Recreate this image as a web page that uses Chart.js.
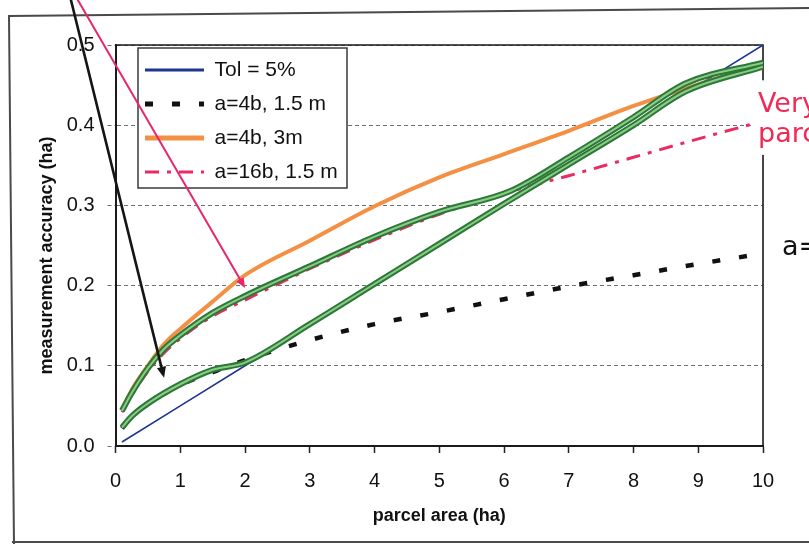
<!DOCTYPE html>
<html>
<head>
<meta charset="utf-8">
<script src="https://cdn.jsdelivr.net/npm/chart.js@4/dist/chart.umd.min.js"></script>
<style>
  html, body { margin: 0; padding: 0; background: #fff; }
  canvas { display: block; }
</style>
</head>
<body>
<canvas id="chart" width="809" height="544"></canvas>
<script>
// Parcel area (ha) sample points and measurement accuracy (ha) for each case
const tolArea = [0.1, 1, 2, 3, 4, 5, 6, 7, 8, 9, 10];
const tolAccuracy = [0.005, 0.05, 0.1, 0.15, 0.2, 0.25, 0.3, 0.35, 0.4, 0.45, 0.5];

const curveArea = [0.1, 0.25, 0.5, 0.75, 1, 1.5, 2, 3, 4, 5, 6, 7, 8, 9, 10];
const a4b15Accuracy = [0.022, 0.038, 0.052, 0.065, 0.076, 0.092, 0.107, 0.132, 0.152, 0.167, 0.183, 0.199, 0.213, 0.227, 0.24];
const a4b3Accuracy = [0.045, 0.07, 0.1, 0.127, 0.146, 0.18, 0.213, 0.256, 0.299, 0.335, 0.364, 0.393, 0.424, 0.451, 0.476];
const a16b15Accuracy = [0.042, 0.063, 0.093, 0.116, 0.134, 0.162, 0.182, 0.221, 0.257, 0.289, 0.315, 0.337, 0.36, 0.383, 0.405];

// Highlighted envelopes (upper and lower) drawn over the curves
const upperEnvArea = [0.1, 0.25, 0.5, 0.75, 1, 1.5, 2, 3, 4, 5, 6.1, 7, 8, 8.8, 10];
const upperEnvAccuracy = [0.044, 0.066, 0.097, 0.121, 0.138, 0.166, 0.187, 0.224, 0.261, 0.292, 0.318, 0.36, 0.41, 0.452, 0.478];
const lowerEnvArea = [0.1, 0.25, 0.5, 1, 1.5, 2, 3, 4, 5, 6, 7, 8, 8.8, 10];
const lowerEnvAccuracy = [0.023, 0.037, 0.053, 0.077, 0.095, 0.104, 0.152, 0.202, 0.252, 0.302, 0.351, 0.4, 0.442, 0.473];

// Axis tick labels
const xTickLabels = ['0', '1', '2', '3', '4', '5', '6', '7', '8', '9', '10'];
const yTickLabels = ['0.0', '0.1', '0.2', '0.3', '0.4', '0.5'];

const SANS = "'Liberation Sans', Arial, Helvetica, sans-serif";
const HAND = "'DejaVu Sans', 'Noto Sans', sans-serif";

const toPoints = (xs, ys) => xs.map((x, i) => ({ x: x, y: ys[i] }));

const common = { pointRadius: 0, pointHoverRadius: 0, fill: false, borderJoinStyle: 'round' };

const datasets = [
  Object.assign({ label: 'Tol = 5%', data: toPoints(tolArea, tolAccuracy),
    borderColor: '#1f3596', borderWidth: 1.6, tension: 0, order: 6, legendWidth: 3 }, common),
  Object.assign({ label: 'a=4b, 1.5 m', data: toPoints(curveArea, a4b15Accuracy),
    borderColor: '#111111', borderWidth: 4.5, borderDash: [8, 19],
    cubicInterpolationMode: 'monotone', order: 5, legendWidth: 5 }, common),
  Object.assign({ label: 'a=4b, 3m', data: toPoints(curveArea, a4b3Accuracy),
    borderColor: '#f39043', borderWidth: 4, cubicInterpolationMode: 'monotone', order: 4, legendWidth: 5 }, common),
  Object.assign({ label: 'a=16b, 1.5 m', data: toPoints(curveArea, a16b15Accuracy),
    borderColor: '#ea2a62', borderWidth: 3, borderDash: [14, 8, 4, 8],
    cubicInterpolationMode: 'monotone', order: 3, legendWidth: 3 }, common),
  Object.assign({ label: '', data: toPoints(upperEnvArea, upperEnvAccuracy),
    borderColor: '#2b7839', borderWidth: 6, cubicInterpolationMode: 'monotone', order: 2 }, common),
  Object.assign({ label: '', data: toPoints(lowerEnvArea, lowerEnvAccuracy),
    borderColor: '#2b7839', borderWidth: 6, cubicInterpolationMode: 'monotone', order: 2 }, common),
  Object.assign({ label: '', data: toPoints(upperEnvArea, upperEnvAccuracy),
    borderColor: '#8ccb84', borderWidth: 2, cubicInterpolationMode: 'monotone', order: 1 }, common),
  Object.assign({ label: '', data: toPoints(lowerEnvArea, lowerEnvAccuracy),
    borderColor: '#8ccb84', borderWidth: 2, cubicInterpolationMode: 'monotone', order: 1 }, common)
];

function drawArrow(ctx, x1, y1, x2, y2, color, width, head) {
  const ang = Math.atan2(y2 - y1, x2 - x1);
  const bx = x2 - head * Math.cos(ang);
  const by = y2 - head * Math.sin(ang);
  const hw = head * 0.42;
  ctx.save();
  ctx.strokeStyle = color;
  ctx.fillStyle = color;
  ctx.lineWidth = width;
  ctx.lineCap = 'round';
  ctx.beginPath();
  ctx.moveTo(x1, y1);
  ctx.lineTo(bx, by);
  ctx.stroke();
  ctx.beginPath();
  ctx.moveTo(x2, y2);
  ctx.lineTo(bx + hw * Math.sin(ang), by - hw * Math.cos(ang));
  ctx.lineTo(bx - hw * Math.sin(ang), by + hw * Math.cos(ang));
  ctx.closePath();
  ctx.fill();
  ctx.restore();
}

const decorations = {
  id: 'decorations',
  afterLayout(chart) {
    const lg = chart.legend;
    const ca = chart.chartArea;
    if (lg) {
      lg.left = ca.left + 16.5;
      lg.top = ca.top + 1.5;
    }
  },
  beforeDraw(chart) {
    const ctx = chart.ctx;
    ctx.save();
    ctx.fillStyle = '#ffffff';
    ctx.fillRect(0, 0, chart.width, chart.height);
    // outer figure frame
    ctx.strokeStyle = '#4a4a4a';
    ctx.lineWidth = 2;
    ctx.beginPath();
    ctx.moveTo(chart.width + 4, 8);
    ctx.lineTo(9, 16);
    ctx.lineTo(14, chart.height + 2);
    ctx.moveTo(12, 542);
    ctx.lineTo(chart.width + 4, 542);
    ctx.stroke();
    ctx.restore();

    const lg = chart.legend;
    if (lg && !lg._framed) {
      const baseDraw = lg.draw;
      lg.draw = function () {
        const ca = chart.chartArea;
        const c = this.ctx;
        c.save();
        c.fillStyle = '#ffffff';
        c.fillRect(ca.left + 22.5, ca.top + 3, 209, 140);
        c.strokeStyle = '#3a3a3a';
        c.lineWidth = 1.5;
        c.strokeRect(ca.left + 22.5, ca.top + 3, 209, 140);
        c.restore();
        baseDraw.apply(this, arguments);
      };
      lg._framed = true;
    }
  },
  beforeDatasetsDraw(chart) {
    const ctx = chart.ctx;
    const ca = chart.chartArea;
    ctx.save();
    ctx.strokeStyle = '#1a1a1a';
    ctx.lineWidth = 1.6;
    ctx.beginPath();
    ctx.moveTo(ca.left, ca.top);
    ctx.lineTo(ca.right, ca.top);
    ctx.lineTo(ca.right, ca.bottom);
    ctx.stroke();
    ctx.restore();
  },
  afterDraw(chart) {
    const ctx = chart.ctx;
    const xs = chart.scales.x;
    const ys = chart.scales.y;
    const x10 = xs.getPixelForValue(10);

    // notes beside the right edge of the plot
    ctx.save();
    ctx.fillStyle = '#ffffff';
    const pTop = ys.getPixelForValue(0.456);
    const pBot = ys.getPixelForValue(0.363);
    ctx.fillRect(x10 - 11, pTop, chart.width, pBot - pTop);
    ctx.font = '27px ' + HAND;
    ctx.textBaseline = 'alphabetic';
    ctx.textAlign = 'left';
    ctx.fillStyle = '#f02a55';
    ctx.fillText('Very', x10 - 5, ys.getPixelForValue(0.4165));
    ctx.fillText('parc', x10 - 5, ys.getPixelForValue(0.379));
    ctx.fillStyle = '#111111';
    ctx.fillText('a=', x10 + 19, ys.getPixelForValue(0.238));
    ctx.restore();

    // pointer arrows
    drawArrow(ctx, xs.getPixelForValue(-0.70), ys.getPixelForValue(0.56),
      xs.getPixelForValue(0.75), ys.getPixelForValue(0.085), '#151515', 2.6, 11);
    drawArrow(ctx, xs.getPixelForValue(-0.61), ys.getPixelForValue(0.56),
      xs.getPixelForValue(2.0), ys.getPixelForValue(0.197), '#e8266e', 2, 10);
  }
};

new Chart(document.getElementById('chart'), {
  type: 'line',
  data: { datasets: datasets },
  plugins: [decorations],
  options: {
    responsive: false,
    devicePixelRatio: 1,
    animation: false,
    events: [],
    layout: { padding: { top: 45, right: 46, bottom: 0, left: 0 } },
    plugins: {
      tooltip: { enabled: false },
      legend: {
        position: 'chartArea',
        align: 'start',
        labels: {
          usePointStyle: true,
          pointStyle: 'line',
          pointStyleWidth: 59,
          padding: 13,
          color: '#111111',
          font: { family: SANS, size: 21 },
          filter: (item) => item.text !== '',
          sort: (a, b) => a.datasetIndex - b.datasetIndex,
          generateLabels: (chart) => {
            const items = Chart.defaults.plugins.legend.labels.generateLabels(chart);
            items.forEach((it) => {
              const ds = chart.data.datasets[it.datasetIndex];
              it.strokeStyle = ds.borderColor;
              it.fillStyle = ds.borderColor;
              it.lineDash = ds.borderDash || [];
              it.lineDashOffset = 0;
              it.lineWidth = ds.legendWidth || ds.borderWidth;
              it.lineCap = 'butt';
              it.pointStyle = 'line';
            });
            return items;
          }
        }
      }
    },
    scales: {
      x: {
        type: 'linear',
        min: 0,
        max: 10,
        afterFit: (s) => { s.height = 98; },
        ticks: {
          stepSize: 1,
          padding: 16,
          color: '#111111',
          font: { family: SANS, size: 20 },
          callback: (v) => xTickLabels[Math.round(v)]
        },
        grid: {
          display: true,
          drawOnChartArea: false,
          drawTicks: true,
          tickLength: 7,
          tickColor: '#222222',
          tickWidth: 1.5,
          color: '#222222'
        },
        border: { display: true, color: '#1a1a1a', width: 2 },
        title: {
          display: true,
          text: 'parcel area (ha)',
          color: '#111111',
          font: { family: SANS, size: 18, weight: 'bold' },
          padding: { top: 0, bottom: 17 }
        }
      },
      y: {
        type: 'linear',
        min: 0,
        max: 0.5,
        afterFit: (s) => { s.width = 115.5; },
        ticks: {
          stepSize: 0.1,
          padding: 13,
          color: '#111111',
          font: { family: SANS, size: 20 },
          callback: (v) => yTickLabels[Math.round(v * 10)]
        },
        grid: {
          color: '#707070',
          lineWidth: 1,
          tickLength: 8,
          tickColor: '#707070',
          tickBorderDash: [4, 3],
          borderDash: [4, 3]
        },
        border: { display: true, color: '#1a1a1a', width: 2, dash: [4, 3] },
        title: {
          display: true,
          text: 'measurement accuracy (ha)    ',
          color: '#111111',
          font: { family: SANS, size: 18, weight: 'bold' },
          padding: { top: 36, bottom: 0 }
        }
      }
    }
  }
});
</script>
</body>
</html>
